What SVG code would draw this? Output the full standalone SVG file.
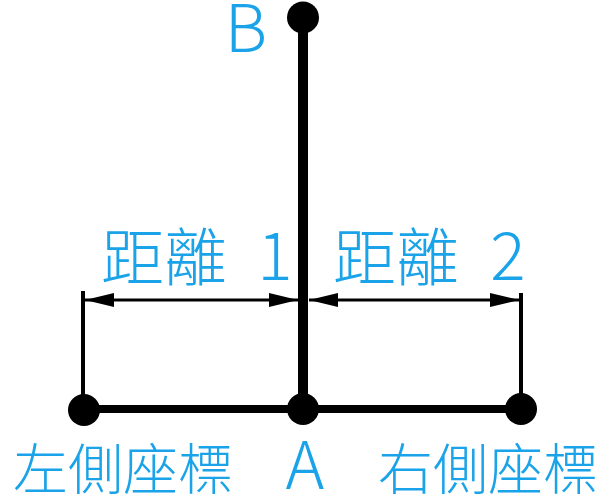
<svg xmlns="http://www.w3.org/2000/svg" width="600" height="500" viewBox="0 0 600 500">
<defs>
<style>
.lbl{fill:#1aa3e8;font-family:"Noto Sans CJK TC","Noto Sans",sans-serif;font-weight:300;}
.lat{font-size:66px;}
.cjk{font-size:55px;}
.dist{font-size:63px;}
.dot{fill:#000;}
.thick{stroke:#000;stroke-width:10;fill:none;}
.base{stroke:#000;stroke-width:8;fill:none;}
.ext{stroke:#000;stroke-width:4;fill:none;}
.dim{stroke:#000;stroke-width:3;fill:none;marker-start:url(#ah);marker-end:url(#ah);}
</style>
<marker id="ah" viewBox="0 0 29 14" refX="29" refY="7" markerWidth="29" markerHeight="14" markerUnits="userSpaceOnUse" orient="auto-start-reverse">
<path d="M0,0 L29,7 L0,14 Z" fill="#000"/>
</marker>
</defs>
<rect width="600" height="500" fill="#fff"/>
<g id="connectors">
<line class="thick" x1="303" y1="17" x2="303" y2="409"/>
<line class="base" x1="84" y1="409" x2="521" y2="409"/>
<line class="ext" x1="83" y1="291" x2="83" y2="409"/>
<line class="ext" x1="521" y1="293" x2="521" y2="409"/>
<line class="dim" x1="85" y1="300" x2="298" y2="300"/>
<line class="dim" x1="309" y1="300" x2="519" y2="300"/>
<text class="lbl dist" x="101" y="280">距離</text>
<text class="lbl lat" x="275" y="280" text-anchor="middle">1</text>
<text class="lbl dist" x="333" y="280">距離</text>
<text class="lbl lat" x="508" y="280" text-anchor="middle">2</text>
</g>
<g id="node-B">
<circle class="dot" cx="303" cy="17.5" r="16"/>
<text class="lbl lat" x="246" y="52" text-anchor="middle">B</text>
</g>
<g id="node-left">
<circle class="dot" cx="84" cy="410" r="16"/>
<text class="lbl cjk" x="13" y="489">左側座標</text>
</g>
<g id="node-A">
<circle class="dot" cx="303" cy="409" r="16"/>
<text class="lbl lat" x="305" y="489" text-anchor="middle">A</text>
</g>
<g id="node-right">
<circle class="dot" cx="521" cy="409" r="16"/>
<text class="lbl cjk" x="378" y="489">右側座標</text>
</g>
</svg>
